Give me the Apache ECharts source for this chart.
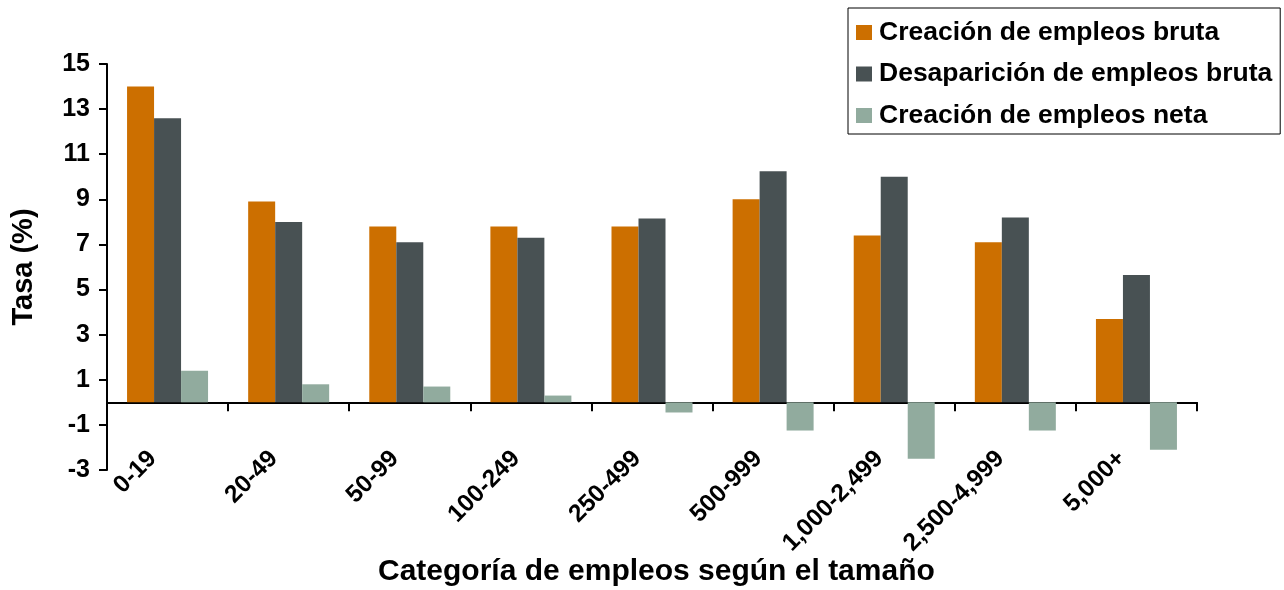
<!DOCTYPE html>
<html>
<head>
<meta charset="utf-8">
<script src="https://cdn.jsdelivr.net/npm/echarts@6/dist/echarts.min.js"></script>
<style>
html,body{margin:0;padding:0;background:#fff;}
#c{width:1284px;height:590px;}
</style>
</head>
<body>
<div id="c"></div>
<script>
const categories = ['0-19','20-49','50-99','100-249','250-499','500-999','1,000-2,499','2,500-4,999','5,000+'];
const creacionBruta = [14.0, 8.9, 7.8, 7.8, 7.8, 9.0, 7.4, 7.1, 3.7];
const desaparicionBruta = [12.6, 8.0, 7.1, 7.3, 8.15, 10.25, 10.0, 8.2, 5.65];
const creacionNeta = [1.4, 0.8, 0.7, 0.3, -0.45, -1.25, -2.5, -1.25, -2.1];
const yTicks = [-3, -1, 1, 3, 5, 7, 9, 11, 13, 15];
const seriesNames = ['Creación de empleos bruta', 'Desaparición de empleos bruta', 'Creación de empleos neta'];

const chart = echarts.init(document.getElementById('c'));
const font = 'Liberation Sans, Arial, sans-serif';
chart.setOption({
  animation: false,
  backgroundColor: '#fff',
  color: ['#CC6F00', '#485153', '#91AB9E'],
  grid: {left: 107, right: 87, top: 64, bottom: 120, containLabel: false},
  legend: {
    orient: 'vertical',
    left: 848, top: 8,
    padding: [11, 8, 5, 8],
    itemGap: 14.5,
    itemWidth: 16, itemHeight: 15,
    icon: 'rect',
    borderColor: '#000', borderWidth: 1,
    textStyle: {fontFamily: font, fontWeight: 'bold', fontSize: 26.5, lineHeight: 26, color: '#000', padding: [0,0,0,2]},
    data: seriesNames
  },
  graphic: [{
    type: 'text', left: 378, top: 557,
    style: {text: 'Categoría de empleos según el tamaño', font: 'bold 30px ' + font, fill: '#000'}
  }],
  xAxis: {
    type: 'category',
    data: categories,
    axisLine: {onZero: true, lineStyle: {color: '#000', width: 2}},
    axisTick: {show: true, length: 9, alignWithLabel: false, lineStyle: {color: '#000', width: 2}},
    axisLabel: {rotate: 45, margin: -30, padding: [0, 21, 0, 0], interval: 0, color: '#000', fontFamily: font, fontWeight: 'bold', fontSize: 24.5},
    splitLine: {show: false}
  },
  yAxis: {
    type: 'value',
    min: -3, max: 15,
    name: 'Tasa (%)',
    nameLocation: 'middle',
    nameRotate: 90,
    nameGap: 69,
    nameTextStyle: {fontFamily: font, fontWeight: 'bold', fontSize: 29, color: '#000'},
    axisLine: {show: true, lineStyle: {color: '#000', width: 2}},
    axisTick: {show: true, length: 8, customValues: yTicks, lineStyle: {color: '#000', width: 2}},
    axisLabel: {customValues: yTicks, margin: 17, color: '#000', fontFamily: font, fontWeight: 'bold', fontSize: 25},
    splitLine: {show: false}
  },
  series: [
    {name: seriesNames[0], type: 'bar', data: creacionBruta, barWidth: 27, barGap: '0%'},
    {name: seriesNames[1], type: 'bar', data: desaparicionBruta, barWidth: 27, barGap: '0%'},
    {name: seriesNames[2], type: 'bar', data: creacionNeta, barWidth: 27, barGap: '0%'}
  ]
});
</script>
</body>
</html>
